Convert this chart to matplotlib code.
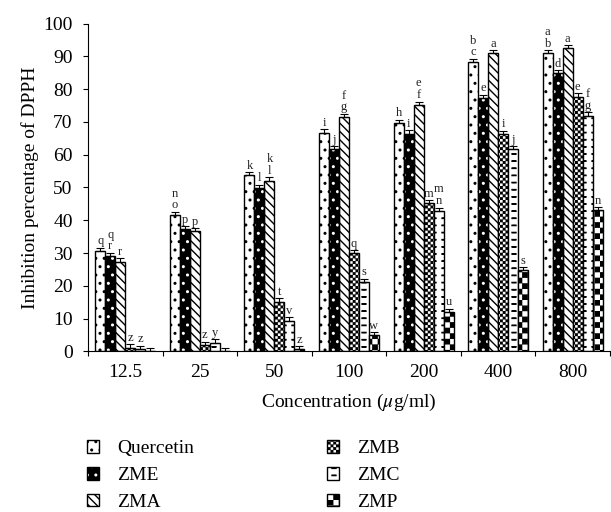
import warnings

import numpy as np
import matplotlib
matplotlib.use("Agg")
import matplotlib.pyplot as plt
import matplotlib.hatch as mhatch
from matplotlib.path import Path
from matplotlib.legend_handler import HandlerTuple

warnings.filterwarnings("ignore")

# data
concentrations = ["12.5", "25", "50", "100", "200", "400", "800"]
series_names = ["Quercetin", "ZME", "ZMA", "ZMB", "ZMC", "ZMP"]

quercetin = [30.7, 41.6, 53.8, 66.7, 69.8, 88.4, 90.9]
zme = [29.1, 37.2, 49.9, 61.6, 66.4, 77.4, 84.8]
zma = [27.4, 36.7, 52.1, 71.6, 75.2, 90.9, 92.4]
zmb = [1.0, 2.0, 15.2, 29.9, 45.2, 66.3, 77.7]
zmc = [0.8, 2.5, 9.4, 21.2, 42.9, 61.6, 71.9]
zmp = [0.3, 0.3, 0.7, 5.0, 12.1, 24.8, 43.1]

quercetin_err = [1.0, 1.0, 0.9, 1.0, 0.9, 0.9, 0.9]
zme_err = [1.0, 1.0, 1.0, 1.0, 1.0, 0.9, 1.0]
zma_err = [1.0, 1.0, 1.0, 0.9, 1.0, 0.9, 0.9]
zmb_err = [1.2, 1.0, 1.0, 1.0, 1.0, 1.0, 1.0]
zmc_err = [1.0, 1.2, 1.0, 1.0, 1.0, 1.0, 1.0]
zmp_err = [0.9, 0.9, 0.9, 1.0, 1.0, 1.0, 1.0]

# significance letters, stacked letters read top to bottom
quercetin_sig = ["q", "no", "k", "i", "h", "bc", "ab"]
zme_sig = ["qr", "p", "l", "j", "i", "e", "d"]
zma_sig = ["r", "p", "kl", "fg", "ef", "a", "a"]
zmb_sig = ["z", "z", "t", "q", "m", "i", "e"]
zmc_sig = ["z", "y", "v", "s", "mn", "j", "fg"]
zmp_sig = ["", "", "z", "w", "u", "s", "n"]


class CheckerHatch(mhatch.HatchPatternBase):
    """Checkerboard hatch: each 'k' adds nine cells per hatch unit."""

    def __init__(self, hatch, density):
        self.n = hatch.count("k") * 9
        if self.n % 2:
            self.n += 1
        self.num_vertices = self.n * self.n // 2 * 5

    def set_vertices_and_codes(self, vertices, codes):
        s = 1.0 / self.n
        pad = 0.006  # the hatch stroke grows each square a little
        sq = np.array([[pad, pad], [s - pad, pad], [s - pad, s - pad],
                       [pad, s - pad], [pad, pad]])
        k = 0
        for i in range(self.n):
            for j in range(self.n):
                if (i + j) % 2 == 0:
                    vertices[k:k + 5] = sq + [i * s, j * s]
                    codes[k:k + 5] = [Path.MOVETO, Path.LINETO, Path.LINETO,
                                      Path.LINETO, Path.CLOSEPOLY]
                    k += 5


class DashHatch(mhatch.HatchPatternBase):
    """Short horizontal dashes ('d')."""

    rows = 14
    cols = 10

    def __init__(self, hatch, density):
        self.on = "d" in hatch
        self.num_vertices = self.rows * self.cols * 5 if self.on else 0

    def set_vertices_and_codes(self, vertices, codes):
        dx = 1.0 / self.cols
        dy = 1.0 / self.rows
        w, h = 0.04, 0.003
        rect = np.array([[0, 0], [w, 0], [w, h], [0, h], [0, 0]])
        k = 0
        for r in range(self.rows):
            for c in range(self.cols):
                vertices[k:k + 5] = rect + [c * dx + 0.02, r * dy + 0.03]
                codes[k:k + 5] = [Path.MOVETO, Path.LINETO, Path.LINETO,
                                  Path.LINETO, Path.CLOSEPOLY]
                k += 5


mhatch._hatch_types.extend([CheckerHatch, DashHatch])

plt.rcParams["font.family"] = ["Liberation Serif", "DejaVu Serif"]
plt.rcParams["mathtext.fontset"] = "stix"
plt.rcParams["hatch.linewidth"] = 1.0

values = [quercetin, zme, zma, zmb, zmc, zmp]
errors = [quercetin_err, zme_err, zma_err, zmb_err, zmc_err, zmp_err]
letters = [quercetin_sig, zme_sig, zma_sig, zmb_sig, zmc_sig, zmp_sig]
hatches = ["..", "..", "\\\\\\\\", "kkkk", "d", "kk"]

fig = plt.figure(figsize=(6.11, 5.12), dpi=100)
ax = fig.add_axes([0.144, 0.3135, 0.8543, 0.6406])

n_groups = len(concentrations)
centers = np.arange(n_groups) + 0.5
w = 0.134

handles = []
for k, (name, vals, err, sig, hatch) in enumerate(zip(series_names, values, errors, letters, hatches)):
    x = centers + (k - 2.5) * w
    if name == "ZME":
        inner = ax.bar(x, vals, w, color="black", edgecolor="white", hatch=hatch, linewidth=0, zorder=2)
        outer = ax.bar(x, vals, w, fill=False, edgecolor="black", linewidth=1.0, zorder=3)
        handles.append((inner[0], outer[0]))
    else:
        bars = ax.bar(x, vals, w, color="white", edgecolor="black", hatch=hatch, linewidth=1.0, zorder=2)
        handles.append(bars[0])

    ax.errorbar(x, vals, yerr=[np.zeros(n_groups), err], fmt="none", ecolor="black",
                elinewidth=0.8, capsize=2.6, capthick=0.8, zorder=4)

    for xi, v, e, s in zip(x, vals, err, sig):
        for j, ch in enumerate(reversed(s)):
            ax.text(xi, v + e + 1.0 + j * 3.6, ch, ha="center", va="baseline",
                    fontsize=9, color="#222222", zorder=5)

ax.set_xlim(0, n_groups)
ax.set_ylim(0, 100)
ax.set_yticks(np.arange(0, 101, 10))
ax.set_xticks(np.arange(0, n_groups + 1))
ax.set_xticklabels([])
ax.set_xticks(centers, minor=True)
ax.set_xticklabels(concentrations, minor=True)
ax.tick_params(axis="x", which="minor", length=0, pad=9, labelsize=14)
ax.tick_params(axis="x", which="major", length=3.5, width=0.8, direction="out")
ax.tick_params(axis="y", length=3.5, width=0.8, direction="out", pad=7.5, labelsize=14)

for side in ["top", "right"]:
    ax.spines[side].set_visible(False)
for side in ["left", "bottom"]:
    ax.spines[side].set_linewidth(0.8)

ax.set_xlabel("Concentration ($\\mu$g/ml)", fontsize=14, labelpad=8)
ax.set_ylabel("Inhibition percentage of DPPH", fontsize=14, labelpad=3)

fig.legend(handles, series_names, ncol=2, loc="upper left",
           bbox_to_anchor=(0.143, 0.140), frameon=False, fontsize=14,
           handlelength=0.62, handleheight=0.62, handletextpad=0.9,
           columnspacing=6.86, labelspacing=0.49, borderpad=0, borderaxespad=0,
           handler_map={tuple: HandlerTuple(ndivide=1)})

fig.savefig("out.png", dpi=100)
